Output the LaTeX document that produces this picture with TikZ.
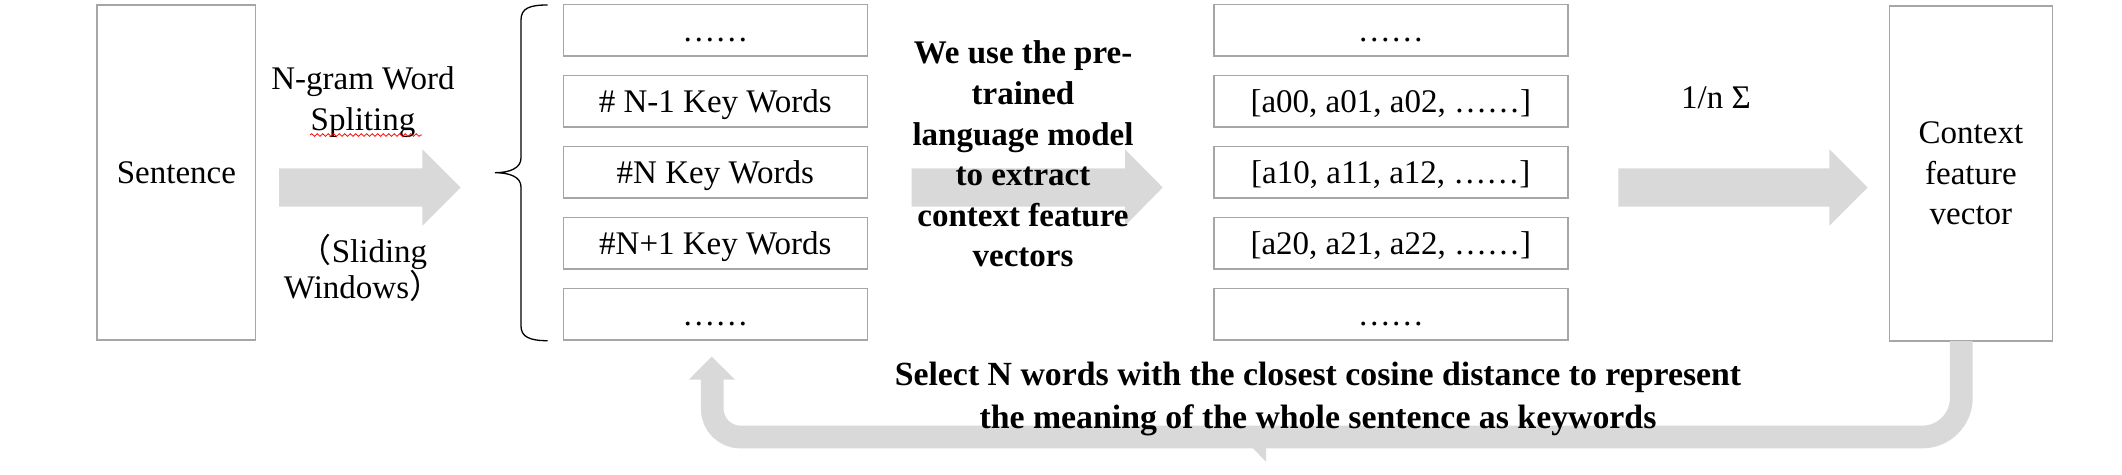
\documentclass[tikz,border=0pt]{standalone}
\usepackage{fontspec}
\setmainfont{Liberation Serif}
\newfontfamily\cjkfont{Noto Sans CJK SC}
\usetikzlibrary{decorations.pathmorphing}
\definecolor{boxgray}{HTML}{A6A6A6}
\definecolor{arrowgray}{HTML}{D9D9D9}
\begin{document}
\begin{tikzpicture}[x=1pt,y=-1pt,
  every node/.style={font=\fontsize{33}{40.5}\selectfont, inner sep=0pt},
  box/.style={draw=boxgray, line width=1.5pt, fill=white},
  tallbox/.style={box, align=center, minimum width=158.5pt, minimum height=335pt},
  kwbox/.style={box, minimum width=304pt, minimum height=51.5pt, text height=22pt, text depth=0pt},
  vecbox/.style={box, minimum width=354pt, minimum height=51.5pt, text height=22pt, text depth=0pt},
  blockarrow/.style={fill=arrowgray},
  lbl/.style={align=center}]

\useasboundingbox (0,0) rectangle (2122,474);
\fill[white] (0,0) rectangle (2122,474);

% block arrows
\fill[blockarrow] (279,168.3) -- (422.3,168.3) -- (422.3,149.3) -- (460.7,187.5) -- (422.3,225.7) -- (422.3,206.7) -- (279,206.7) -- cycle;
\fill[blockarrow] (911.6,168.3) -- (1125,168.3) -- (1125,149.3) -- (1162.7,187.5) -- (1125,225.7) -- (1125,206.7) -- (911.6,206.7) -- cycle;
\fill[blockarrow] (1618.3,168.3) -- (1829.3,168.3) -- (1829.3,149.3) -- (1867.7,187.5) -- (1829.3,225.7) -- (1829.3,206.7) -- (1618.3,206.7) -- cycle;

% boxes
\node[tallbox] (sent) at (176.4,172.35) {Sentence};
\node[tallbox, minimum width=163pt] (ctx) at (1970.9,173.5) {Context\\feature\\vector};

\node[kwbox] (k0) at (715.3,30.4) {……};
\node[kwbox] (k1) at (715.3,101.3) {\# N-1 Key Words};
\node[kwbox] (k2) at (715.3,172.2) {\#N Key Words};
\node[kwbox] (k3) at (715.3,243.1) {\#N+1 Key Words};
\node[kwbox] (k4) at (715.3,314.0) {……};

\node[vecbox] (v0) at (1390.8,30.4) {……};
\node[vecbox] (v1) at (1390.8,101.3) {[a00, a01, a02, ……]};
\node[vecbox] (v2) at (1390.8,172.2) {[a10, a11, a12, ……]};
\node[vecbox] (v3) at (1390.8,243.1) {[a20, a21, a22, ……]};
\node[vecbox] (v4) at (1390.8,314.0) {……};

% return arrow
\coordinate (rs) at (1961.3,341);
\coordinate (rc1) at (1961.3,437);
\coordinate (rc2) at (712.3,437);
\coordinate (re) at (712.3,379);
\draw[arrowgray, line width=22.7pt] (rs) [rounded corners=39pt] -- (rc1) [rounded corners=28pt] -- (rc2) -- (re);
\fill[blockarrow] (689,379.5) -- (735,379.5) -- (711.7,356.7) -- cycle;
\fill[blockarrow] (1251.7,447) -- (1266,447) -- (1266,461.7) -- cycle;

% brace
\draw[line width=1.3pt] (547.5,5) .. controls (530,5) and (521,8) .. (521,20) -- (521,158)
  .. controls (521,168) and (510,172.7) .. (495,172.7)
  .. controls (510,172.7) and (521,177) .. (521,187) -- (521,326)
  .. controls (521,337) and (530,340.7) .. (547.5,340.7);

% labels
\node[lbl] (ngram) at (363,102) {N-gram Word\\Spliting};
\draw[red, line width=0.8pt, decorate, decoration={snake, amplitude=1.3pt, segment length=5.5pt}] (310,135) -- (422,135);
\node[lbl, font=\fontsize{33}{36}\selectfont] (slide) at (363,267.5) {{\cjkfont （}Sliding\\Windows{\cjkfont ）}};
\node[lbl, font=\bfseries\fontsize{33}{40.6}\selectfont] (lm) at (1023,154.2) {We use the pre-\\trained\\language model\\to extract\\context feature\\vectors};
\node[anchor=base] (avg) at (1716,108.5) {1/n Σ};
\node[lbl, font=\bfseries\fontsize{33.8}{42.5}\selectfont] (sel) at (1318,398.8) {Select N words with the closest cosine distance to represent\\the meaning of the whole sentence as keywords};
\end{tikzpicture}
\end{document}
